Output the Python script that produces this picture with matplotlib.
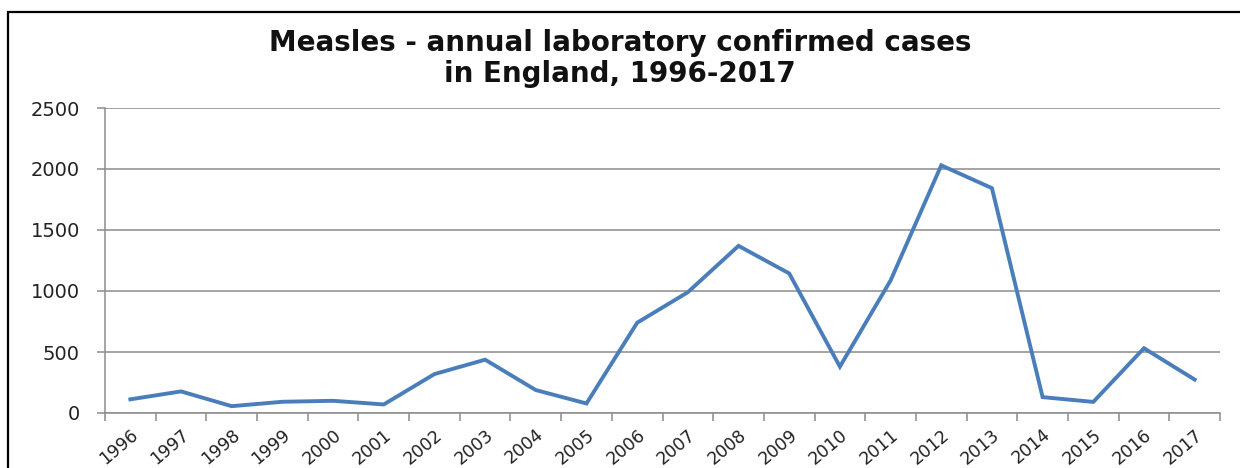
import numpy as np
import matplotlib
matplotlib.use("Agg")
import matplotlib.pyplot as plt
from matplotlib.patches import Rectangle
from matplotlib.ticker import FixedLocator, NullFormatter

years = [str(y) for y in range(1996, 2018)]
cases = [112, 177, 56, 92, 100, 70, 319, 437, 188, 78, 740, 990,
         1370, 1144, 380, 1086, 2030, 1843, 130, 91, 531, 274]
yticks = [0, 500, 1000, 1500, 2000, 2500]
title_lines = ["Measles - annual laboratory confirmed cases", "in England, 1996-2017"]

plt.rcParams["font.family"] = ["DejaVu Sans"]

fig = plt.figure(figsize=(12.4, 4.68), dpi=100)
ax = fig.add_axes([105 / 1240, 1 - 413 / 468, (1220 - 105) / 1240, (413 - 108) / 468])

x = np.arange(len(years))
ax.plot(x, cases, color="#4A7EBB", lw=2.8, solid_joinstyle="miter")

ax.set_xlim(-0.5, len(years) - 0.5)
ax.set_ylim(0, 2500)
ax.set_yticks(yticks)
ax.set_yticklabels([str(v) for v in yticks], fontsize=14, color="#222222")
ax.grid(axis="y", color="#8c8c8c", lw=1.1)
ax.set_axisbelow(True)

# category axis: tick marks between categories, labels at centres
ax.xaxis.set_major_locator(FixedLocator(np.arange(-0.5, len(years), 1.0)))
ax.xaxis.set_major_formatter(NullFormatter())
ax.xaxis.set_minor_locator(FixedLocator(x))
ax.set_xticklabels(years, minor=True, rotation=40, ha="right", va="top",
                   rotation_mode="anchor", fontsize=12.5, color="#222222")
ax.tick_params(axis="x", which="major", length=6, color="#8c8c8c", width=1.1)
ax.tick_params(axis="x", which="minor", length=0, pad=9)
ax.tick_params(axis="y", length=6, color="#8c8c8c", width=1.1, pad=12)

for s in ["top", "right"]:
    ax.spines[s].set_visible(False)
for s in ["left", "bottom"]:
    ax.spines[s].set_color("#8c8c8c")
    ax.spines[s].set_linewidth(1.1)

for i, line in enumerate(title_lines):
    fig.text(0.5, 1 - (51 + 31 * i) / 468, line, ha="center", va="baseline",
             fontsize=20, fontweight="bold", color="#111111")

fig.patches.append(Rectangle((8 / 1240, -0.1), 1.2, 1 - 12 / 468 + 0.1,
                             transform=fig.transFigure, fill=False,
                             edgecolor="black", lw=1.6))

fig.savefig("out.png", dpi=100)
